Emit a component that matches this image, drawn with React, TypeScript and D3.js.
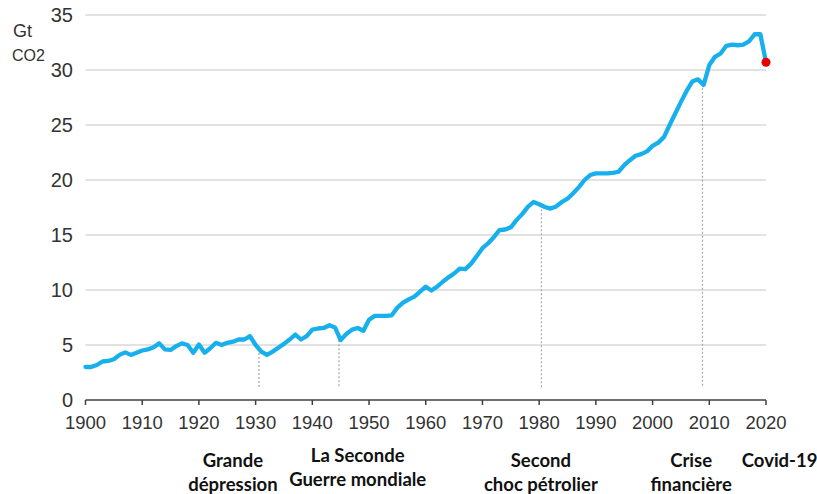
import React from "react";
import * as d3 from "d3";

const startYear = 1900;
const emissions = [
  3.0, 3.0, 3.18, 3.5, 3.55, 3.7, 4.1, 4.33, 4.1, 4.3,
  4.5, 4.6, 4.8, 5.15, 4.6, 4.55, 4.9, 5.15, 5.0, 4.3,
  5.05, 4.3, 4.7, 5.2, 5.0, 5.2, 5.3, 5.5, 5.5, 5.8,
  5.0, 4.4, 4.1, 4.4, 4.75, 5.1, 5.5, 5.95, 5.5, 5.8,
  6.4, 6.5, 6.55, 6.8, 6.6, 5.45, 6.0, 6.4, 6.55, 6.3,
  7.3, 7.65, 7.65, 7.65, 7.7, 8.4, 8.85, 9.15, 9.4, 9.85,
  10.3, 9.95, 10.3, 10.75, 11.15, 11.5, 11.95, 11.9, 12.4, 13.1,
  13.8, 14.25, 14.8, 15.45, 15.5, 15.7, 16.35, 16.9, 17.55, 18.0,
  17.8, 17.55, 17.4, 17.6, 18.0, 18.3, 18.8, 19.35, 20.0, 20.45,
  20.6, 20.6, 20.6, 20.65, 20.75, 21.35, 21.8, 22.2, 22.35, 22.6,
  23.1, 23.4, 23.9, 25.0, 26.05, 27.1, 28.1, 28.95, 29.15, 28.65,
  30.45, 31.2, 31.5, 32.2, 32.3, 32.25, 32.3, 32.6, 33.25, 33.25,
  30.7,
];
const years = emissions.map((_, i) => startYear + i);

const covidYear = 2020;
const covidValue = 30.7;

const xTicks = [1900, 1910, 1920, 1930, 1940, 1950, 1960, 1970, 1980, 1990, 2000, 2010, 2020];
const yTicks = [0, 5, 10, 15, 20, 25, 30, 35];

const eventYears = [1930.6, 1944.7, 1980.4, 2008.8];

const labelYears = [1926, 1948, 1980.3, 2006.8, 2022.4];
const labelLines = [
  ["Grande", "dépression"],
  ["La Seconde", "Guerre mondiale"],
  ["Second", "choc pétrolier"],
  ["Crise", "financière"],
  ["Covid-19"],
];
const labelTopOffsets = [0, -5, 0, 0, 0];

export default function App() {
  const W = 817;
  const H = 494;
  const x = d3.scaleLinear().domain([1900, 2020]).range([85.5, 766]);
  const y = d3.scaleLinear().domain([0, 35]).range([400, 15]);

  const data = years.map((yr, i) => ({ yr, v: emissions[i] }));
  const line = d3
    .line<{ yr: number; v: number }>()
    .x((d) => x(d.yr))
    .y((d) => y(d.v));

  const valueAt = (yr: number) => {
    const i = Math.floor(yr - startYear);
    const t = yr - startYear - i;
    const a = emissions[i];
    const b = emissions[Math.min(i + 1, emissions.length - 1)];
    return a + (b - a) * t;
  };

  const tickFont = "'Liberation Sans Narrow', 'Liberation Sans', Arial, sans-serif";
  const labelFont = "Lato, 'Open Sans', sans-serif";

  return (
    <svg
      width={W}
      height={H}
      style={{ position: "absolute", left: 0, top: 0, background: "#fff" }}
    >
      <rect x={0} y={0} width={W} height={H} fill="#fff" />
      {yTicks
        .filter((t) => t > 0)
        .map((t) => (
          <line
            key={t}
            x1={x(1900)}
            x2={x(2020)}
            y1={y(t)}
            y2={y(t)}
            stroke="#d9d9d9"
            strokeWidth={1.5}
          />
        ))}
      {yTicks.map((t) => (
        <text
          key={t}
          x={73}
          y={y(t)}
          dy="0.36em"
          textAnchor="end"
          fontFamily={tickFont}
          fontSize={20}
          fill="#333"
        >
          {t}
        </text>
      ))}
      <text x={13} y={37} fontFamily={tickFont} fontSize={18} fill="#333">
        Gt
      </text>
      <text x={12} y={61} fontFamily={tickFont} fontSize={16} fill="#333">
        CO2
      </text>
      {eventYears.map((e) => (
        <line
          key={e}
          x1={x(e)}
          x2={x(e)}
          y1={y(valueAt(e))}
          y2={388}
          stroke="#a6a6a6"
          strokeWidth={1.2}
          strokeDasharray="2,2"
        />
      ))}
      <line x1={x(1900)} x2={x(2020)} y1={400} y2={400} stroke="#404040" strokeWidth={1.5} />
      {xTicks.map((t) => (
        <g key={t}>
          <line x1={x(t)} x2={x(t)} y1={400} y2={405} stroke="#404040" strokeWidth={1.5} />
          <text
            x={x(t)}
            y={429}
            textAnchor="middle"
            fontFamily={tickFont}
            fontSize={18.5}
            fill="#333"
          >
            {t}
          </text>
        </g>
      ))}
      <path
        d={line(data) || ""}
        fill="none"
        stroke="#17b0ec"
        strokeWidth={4.3}
        strokeLinejoin="round"
        strokeLinecap="round"
      />
      <circle cx={x(covidYear)} cy={y(covidValue)} r={4.5} fill="#e60000" />
      {labelLines.map((lines, i) => (
        <text
          key={i}
          x={x(labelYears[i])}
          y={467 + labelTopOffsets[i]}
          textAnchor="middle"
          fontFamily={labelFont}
          fontWeight="bold"
          fontSize={18.5}
          fill="#111"
        >
          {lines.map((l, j) => (
            <tspan key={j} x={x(labelYears[i])} dy={j === 0 ? 0 : 23.5}>
              {l}
            </tspan>
          ))}
        </text>
      ))}
    </svg>
  );
}
